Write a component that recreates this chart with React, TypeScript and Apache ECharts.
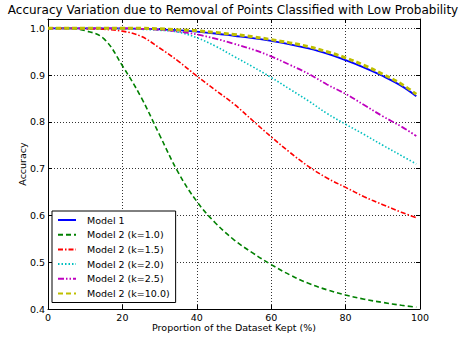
import React, { useEffect, useRef } from "react";
import * as echarts from "echarts";

const xs = [0, 5, 10, 15, 20, 25, 30, 35, 40, 45, 50, 55, 60, 65, 70, 75, 80, 85, 90, 95, 99];
const model1 = [1, 1, 1, 1, 1, 0.999, 0.998, 0.996, 0.993, 0.989, 0.984, 0.979, 0.973, 0.966, 0.957, 0.946, 0.932, 0.916, 0.898, 0.877, 0.855];
const k10 = [1, 1, 0.995, 0.978, 0.92, 0.853, 0.772, 0.692, 0.63, 0.584, 0.548, 0.52, 0.495, 0.473, 0.455, 0.441, 0.43, 0.421, 0.414, 0.408, 0.404];
const k15 = [1, 1, 0.999, 0.998, 0.994, 0.983, 0.958, 0.93, 0.898, 0.868, 0.838, 0.803, 0.768, 0.735, 0.705, 0.68, 0.66, 0.64, 0.623, 0.607, 0.595];
const k20 = [1, 1, 1, 1, 0.999, 0.998, 0.996, 0.992, 0.98, 0.962, 0.94, 0.918, 0.895, 0.87, 0.845, 0.818, 0.795, 0.773, 0.75, 0.728, 0.71];
const k25 = [1, 1, 1, 1, 1, 0.999, 0.997, 0.993, 0.987, 0.978, 0.967, 0.955, 0.94, 0.922, 0.903, 0.88, 0.86, 0.836, 0.812, 0.79, 0.77];
const k100 = [1, 1, 1, 1, 1, 1, 0.999, 0.997, 0.995, 0.991, 0.987, 0.982, 0.976, 0.969, 0.961, 0.95, 0.937, 0.921, 0.902, 0.881, 0.859];

const seriesNames = ["Model 1", "Model 2 (k=1.0)", "Model 2 (k=1.5)", "Model 2 (k=2.0)", "Model 2 (k=2.5)", "Model 2 (k=10.0)"];
const seriesValues = [model1, k10, k15, k20, k25, k100];
const colors = ["#0000ff", "#008000", "#ff0000", "#00bfbf", "#bf00bf", "#bfbf00"];
const dashes: any[] = ["solid", [5, 3], [5, 2, 1.5, 2], [1.5, 2], [6, 2, 1.5, 2, 1.5, 2], [5, 3]];
const widths = [1.8, 1.6, 1.6, 1.6, 1.8, 3];

const FONT = "DejaVu Sans";

export default function App() {
  const ref = useRef<HTMLDivElement>(null);
  useEffect(() => {
    if (!ref.current) return;
    const chart = echarts.init(ref.current, null, { renderer: "svg" });
    const axisCommon = {
      type: "value" as const,
      axisLine: { show: true, onZero: false, lineStyle: { color: "#000", width: 1 } },
      axisTick: { show: true, inside: true, length: 4, lineStyle: { color: "#000" } },
    };
    const yFmt = (v: number) =>
      Math.abs(v * 10 - Math.round(v * 10)) < 1e-6 ? v.toFixed(1) : "";
    chart.setOption({
      animation: false,
      backgroundColor: "#fff",
      textStyle: { fontFamily: FONT },
      graphic: [
        {
          type: "text",
          x: 233,
          y: 10,
          style: {
            text: "Accuracy Variation due to Removal of Points Classified with Low Probability",
            fontFamily: FONT,
            fontSize: 12,
            fill: "#000",
            align: "center",
            verticalAlign: "middle",
          },
        },
      ],
      grid: { left: 48, right: 41, top: 19, bottom: 31, containLabel: false },
      legend: {
        orient: "vertical",
        left: 52,
        top: 211,
        padding: [4, 6, 4, 5],
        itemWidth: 18,
        itemHeight: 10,
        itemGap: 4.7,
        borderColor: "#000",
        borderWidth: 1,
        borderRadius: 0,
        backgroundColor: "#fff",
        itemStyle: { opacity: 0 },
        data: seriesNames,
        textStyle: { fontFamily: FONT, fontSize: 9.5, color: "#000", padding: [0, 0, 0, 6] },
      },
      xAxis: [
        {
          ...axisCommon,
          min: 0,
          max: 100,
          interval: 20,
          position: "bottom",
          name: "Proportion of the Dataset Kept (%)",
          nameLocation: "middle",
          nameGap: 13,
          nameMoveOverlap: false,
          nameTextStyle: { fontFamily: FONT, fontSize: 9.5, color: "#000", verticalAlign: "top" },
          axisLabel: { fontFamily: FONT, fontSize: 9.5, color: "#000", margin: 3 },
          splitLine: { show: true, lineStyle: { color: "#000", type: [1, 2], width: 1, opacity: 0.8 } },
        },
        {
          ...axisCommon,
          min: 0,
          max: 100,
          interval: 20,
          position: "top",
          axisLabel: { show: false },
          splitLine: { show: false },
        },
      ],
      yAxis: [
        {
          ...axisCommon,
          min: 0.4,
          max: 1.02,
          interval: 0.1,
          position: "left",
          name: "Accuracy",
          nameLocation: "middle",
          nameGap: 21,
          nameMoveOverlap: false,
          nameTextStyle: { fontFamily: FONT, fontSize: 9.5, color: "#000" },
          axisLabel: { fontFamily: FONT, fontSize: 9.5, color: "#000", margin: 3, formatter: yFmt },
          splitLine: { show: true, lineStyle: { color: "#000", type: [1, 2], width: 1, opacity: 0.8 } },
        },
        {
          ...axisCommon,
          min: 0.4,
          max: 1.02,
          interval: 0.1,
          position: "right",
          axisLabel: { show: false },
          splitLine: { show: false },
        },
      ],
      series: seriesNames.map((name, i) => ({
        name,
        type: "line",
        xAxisIndex: 0,
        yAxisIndex: 0,
        data: xs.map((x, j) => [x, seriesValues[i][j]]),
        smooth: 0.4,
        showSymbol: false,
        symbol: "none",
        color: colors[i],
        lineStyle: { color: colors[i], type: dashes[i], width: widths[i] },
        z: 2 + i,
      })),
    });
    return () => chart.dispose();
  }, []);
  return (
    <div
      ref={ref}
      style={{ position: "absolute", left: 0, top: 0, width: 461, height: 340 }}
    />
  );
}
